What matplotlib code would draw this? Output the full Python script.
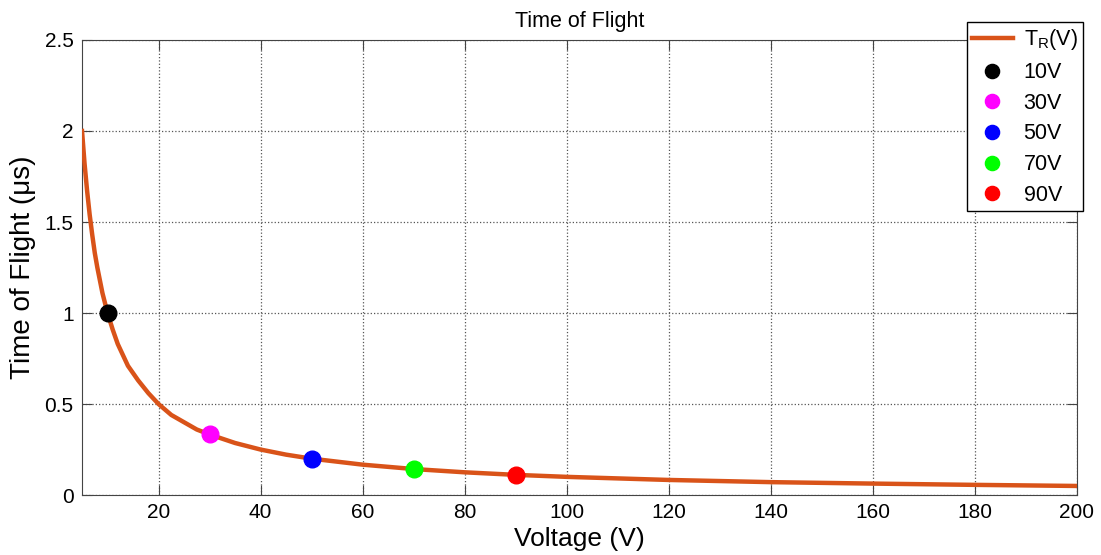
import numpy as np
import matplotlib
matplotlib.use('Agg')
import matplotlib.pyplot as plt

plt.rcParams['font.family'] = ['Liberation Sans', 'DejaVu Sans']
plt.rcParams['mathtext.fontset'] = 'custom'
plt.rcParams['mathtext.rm'] = 'Liberation Sans'
plt.rcParams['mathtext.it'] = 'Liberation Sans'

# values
voltage = [5, 5.5, 6, 6.5, 7, 7.5, 8, 9, 10, 11, 12, 13, 14, 15, 16, 18, 20,
           22.5, 25, 27.5, 30, 35, 40, 45, 50, 60, 70, 80, 90, 100, 120, 140,
           160, 180, 200]
tof = [2.0, 1.82, 1.67, 1.54, 1.43, 1.33, 1.25, 1.11, 1.0, 0.91, 0.83, 0.77,
       0.71, 0.67, 0.63, 0.56, 0.5, 0.44, 0.4, 0.36, 0.333, 0.286, 0.25,
       0.222, 0.2, 0.167, 0.143, 0.125, 0.111, 0.1, 0.083, 0.071, 0.063,
       0.056, 0.05]

pt_v = [10, 30, 50, 70, 90]
pt_t = [1.0, 0.333, 0.2, 0.143, 0.111]
pt_labels = ['10V', '30V', '50V', '70V', '90V']
pt_colors = ['black', '#FF00FF', '#0000FF', '#00FF00', '#FF0000']

fig = plt.figure(figsize=(11.01, 5.55), dpi=100)
ax = fig.add_axes([0.0745, 0.108, 0.9035, 0.82])

ax.plot(voltage, tof, color='#D95319', lw=3.2, label='T$_R$(V)', zorder=3)
for v, t, lab, c in zip(pt_v, pt_t, pt_labels, pt_colors):
    ax.plot(v, t, 'o', color=c, ms=12, label=lab, zorder=4)

ax.set_xlim(5, 200)
ax.set_ylim(0, 2.5)
ax.set_xticks(np.arange(20, 201, 20))
ax.set_yticks([0, 0.5, 1, 1.5, 2, 2.5])
ax.set_yticklabels(['0', '0.5', '1', '1.5', '2', '2.5'])
ax.grid(True, ls=':', color='#555555', lw=0.9)
ax.tick_params(direction='in', top=True, right=True, labelsize=15,
               color='#444444', length=7)
ax.tick_params(axis='x', pad=6)
ax.tick_params(axis='y', pad=6)
for s in ax.spines.values():
    s.set_color('#444444')

ax.set_title('Time of Flight', fontsize=15.5, pad=9)
ax.set_xlabel('Voltage (V)', fontsize=19, labelpad=3)
ax.set_ylabel('Time of Flight (μs)', fontsize=20, labelpad=6)

leg = ax.legend(loc='upper right', bbox_to_anchor=(1083 / 1101, 1 - 22 / 555),
                bbox_transform=fig.transFigure, fancybox=False,
                edgecolor='black', fontsize=15.5, handlelength=1.9,
                borderaxespad=0, markerscale=0.85, labelspacing=0.45,
                handletextpad=0.5, borderpad=0.25)
leg.get_frame().set_linewidth(1.0)
leg.get_frame().set_alpha(1)

fig.savefig('out.png', dpi=100)
